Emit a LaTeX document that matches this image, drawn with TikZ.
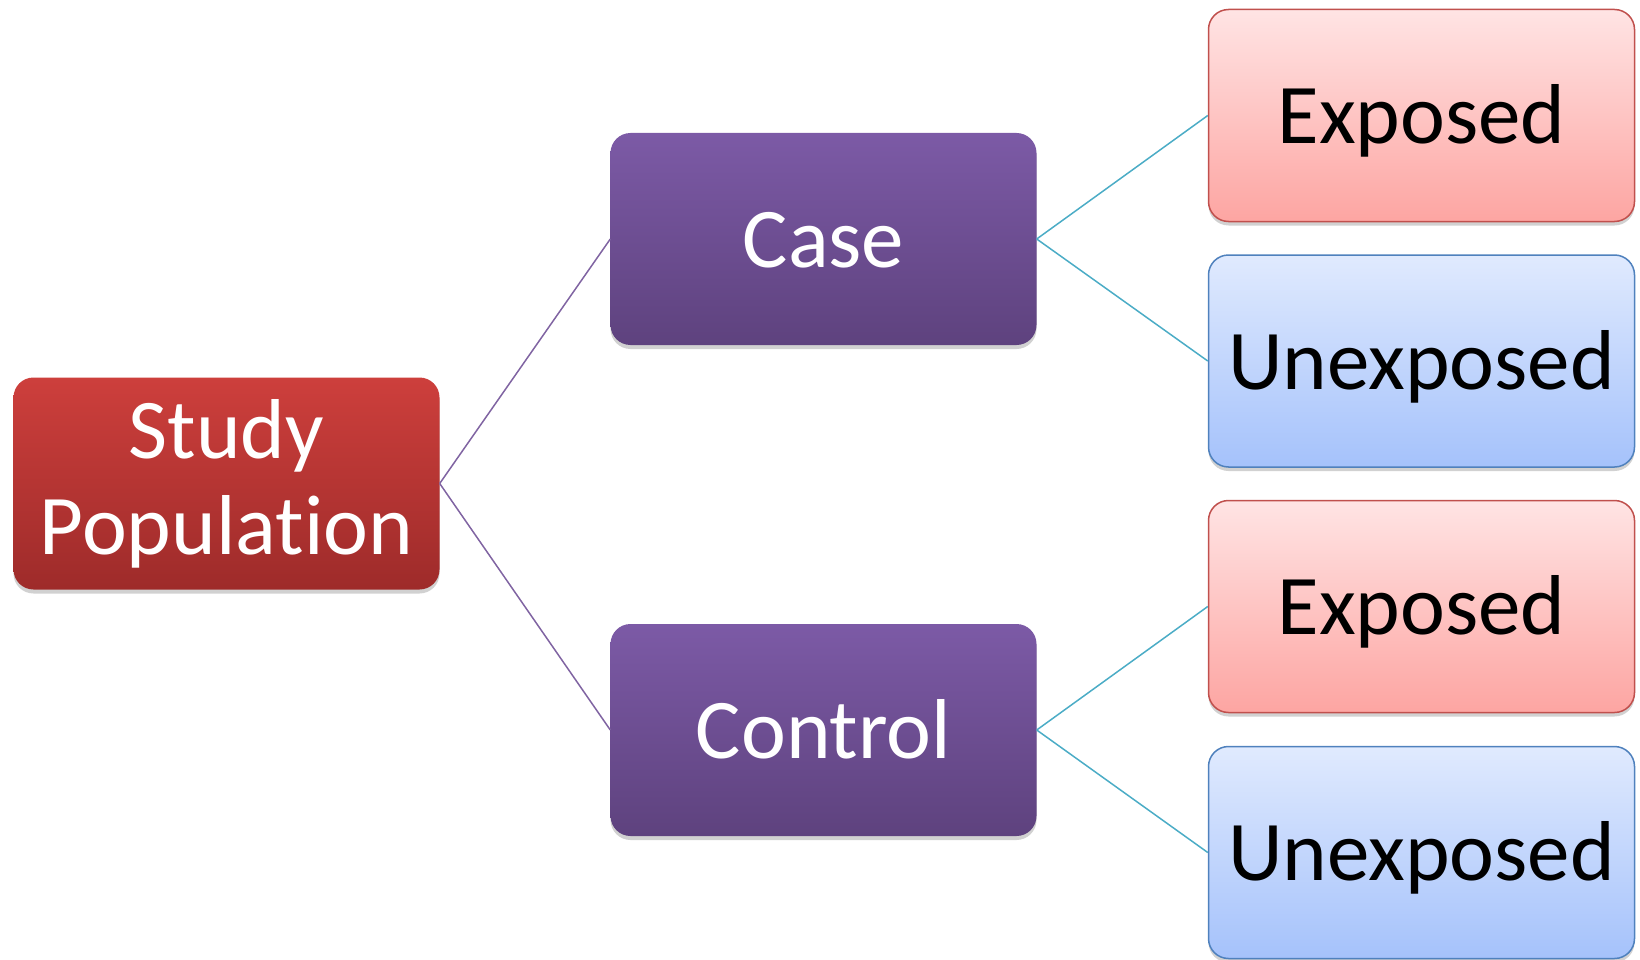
\documentclass[tikz,border=0pt]{standalone}
\usepackage{fontspec}
\setmainfont[Ligatures={NoCommon}]{Carlito}
\usetikzlibrary{shadows}
\definecolor{redtop}{HTML}{CD3F3C}
\definecolor{redbot}{HTML}{9E2B2A}
\definecolor{purtop}{HTML}{7C5AA6}
\definecolor{purbot}{HTML}{5E427E}
\definecolor{exptop}{HTML}{FFE4E4}
\definecolor{expbot}{HTML}{FDA5A2}
\definecolor{expbord}{HTML}{C0504D}
\definecolor{unxtop}{HTML}{E0EAFE}
\definecolor{unxbot}{HTML}{A5C2FB}
\definecolor{unxbord}{HTML}{4F81BD}
\definecolor{purline}{HTML}{8064A2}
\definecolor{cyanline}{HTML}{4BACC6}
\tikzset{
  box/.style={rectangle, rounded corners=20pt, minimum width=426pt, minimum height=212pt,
    inner sep=0pt, align=center, font=\fontsize{85}{96}\selectfont,
    drop shadow={shadow xshift=0pt, shadow yshift=-4pt, opacity=0.18, fill=black}},
  studybox/.style={box, top color=redtop, bottom color=redbot, draw=none, text=white},
  groupbox/.style={box, top color=purtop, bottom color=purbot, draw=none, text=white, text height=56pt, text depth=0pt},
  expbox/.style={box, top color=exptop, bottom color=expbot, draw=expbord, line width=1.5pt, text=black, text height=56pt, text depth=0pt},
  unxbox/.style={box, top color=unxtop, bottom color=unxbot, draw=unxbord, line width=1.5pt, text=black, text height=56pt, text depth=0pt},
  purlink/.style={draw=purline, line width=1.5pt},
  cyanlink/.style={draw=cyanline, line width=1.5pt}
}
\begin{document}
\begin{tikzpicture}[x=1pt,y=-1pt]
\useasboundingbox (0,0) rectangle (1640,960);
\node[studybox] (study) at (226.5,483.5) {Study\\Population};
\node[groupbox] (case) at (823.5,239) {Case};
\node[groupbox] (control) at (823.5,730) {Control};
\node[expbox] (exp1) at (1421.5,115.5) {Exposed};
\node[unxbox] (unx1) at (1421.5,361) {Unexposed};
\node[expbox] (exp2) at (1421.5,606.5) {Exposed};
\node[unxbox] (unx2) at (1421.5,852.5) {Unexposed};
\draw[purlink] (study.east) -- (case.west);
\draw[purlink] (study.east) -- (control.west);
\draw[cyanlink] (case.east) -- (exp1.west);
\draw[cyanlink] (case.east) -- (unx1.west);
\draw[cyanlink] (control.east) -- (exp2.west);
\draw[cyanlink] (control.east) -- (unx2.west);
\end{tikzpicture}
\end{document}
